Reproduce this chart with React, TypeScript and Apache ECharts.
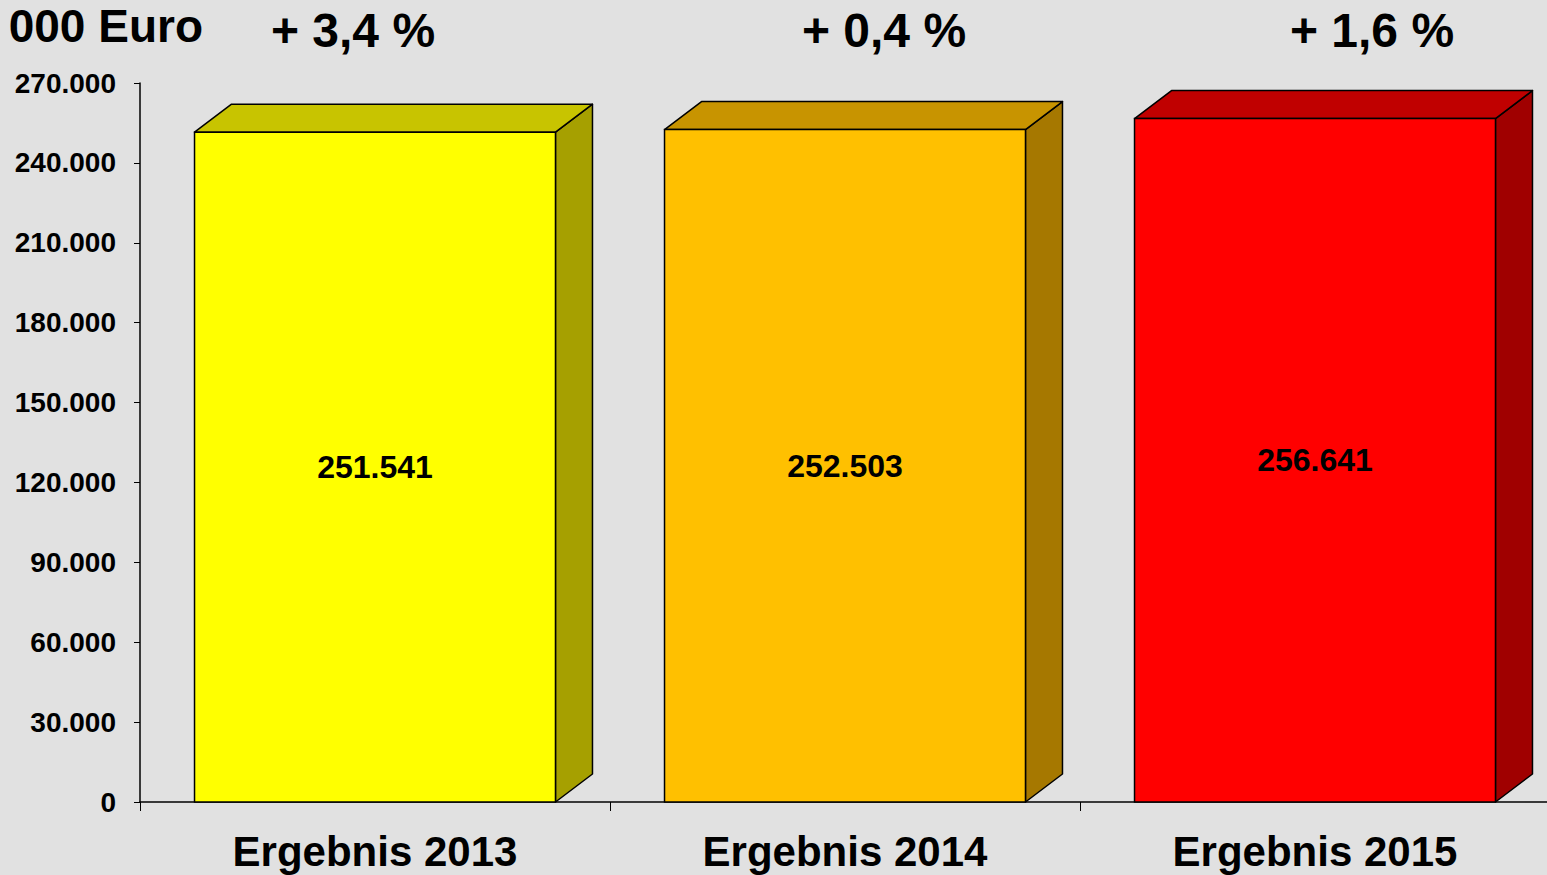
import React, { useEffect, useRef } from "react";
import * as echarts from "echarts";

const categories = ["Ergebnis 2013", "Ergebnis 2014", "Ergebnis 2015"];
const values = [251541, 252503, 256641];
const growthLabels = ["+ 3,4 %", "+ 0,4 %", "+ 1,6 %"];
const unitTitle = "000 Euro";
const frontColors = ["#FFFF00", "#FFC000", "#FF0000"];
const topColors = ["#C8C400", "#C89400", "#C00000"];
const sideColors = ["#A6A000", "#A67800", "#A00000"];

const FONT = '"Liberation Sans", Arial, sans-serif';

function fmt(v: number): string {
  return String(Math.round(v)).replace(/\B(?=(\d{3})+(?!\d))/g, ".");
}

export default function App() {
  const ref = useRef<HTMLDivElement>(null);
  useEffect(() => {
    if (!ref.current) return;
    const chart = echarts.init(ref.current, undefined, { renderer: "svg" });
    const stroke = "#000";
    const lw = 1.5;
    chart.setOption({
      animation: false,
      backgroundColor: "#e1e1e1",
      grid: { left: 140, top: 83, width: 1410, bottom: 73, containLabel: false },
      xAxis: {
        type: "category",
        data: categories,
        boundaryGap: true,
        axisLine: { show: true, lineStyle: { color: "#000", width: 1.5 } },
        axisTick: { show: true, length: 9, alignWithLabel: false, lineStyle: { color: "#000", width: 1 } },
        axisLabel: {
          margin: 28,
          color: "#000",
          fontFamily: FONT,
          fontWeight: "bold",
          fontSize: 42,
        },
      },
      yAxis: {
        type: "value",
        min: 0,
        max: 270000,
        interval: 30000,
        splitLine: { show: false },
        axisLine: { show: true, lineStyle: { color: "#000", width: 1.5 } },
        axisTick: { show: true, length: 6, lineStyle: { color: "#000", width: 1 } },
        axisLabel: {
          margin: 24,
          color: "#000",
          fontFamily: FONT,
          fontWeight: "bold",
          fontSize: 28,
          formatter: (v: number) => fmt(v),
        },
      },
      series: [
        {
          type: "custom",
          data: values.map((v, i) => [i, v]),
          encode: { x: 0, y: 1 },
          clip: false,
          renderItem: (params: any, api: any) => {
            const idx = api.value(0);
            const val = api.value(1);
            const top = api.coord([idx, val]);
            const base = api.coord([idx, 0]);
            const bandW = api.size([1, 0])[0];
            const w = bandW * 0.768;
            const x0 = top[0] - w / 2;
            const x1 = top[0] + w / 2;
            const yT = top[1];
            const yB = base[1];
            const dx = 37;
            const dy = 28;
            return {
              type: "group",
              children: [
                {
                  type: "polygon",
                  shape: { points: [[x1, yB], [x1 + dx, yB - dy], [x1 + dx, yT - dy], [x1, yT]] },
                  style: { fill: sideColors[idx], stroke, lineWidth: lw, lineJoin: "round" },
                },
                {
                  type: "polygon",
                  shape: { points: [[x0, yT], [x0 + dx, yT - dy], [x1 + dx, yT - dy], [x1, yT]] },
                  style: { fill: topColors[idx], stroke, lineWidth: lw, lineJoin: "round" },
                },
                {
                  type: "rect",
                  shape: { x: x0, y: yT, width: w, height: yB - yT },
                  style: { fill: frontColors[idx], stroke, lineWidth: lw },
                },
                {
                  type: "text",
                  x: top[0],
                  y: (yT + yB) / 2,
                  style: {
                    text: fmt(val),
                    fill: "#000",
                    font: `bold 32px ${FONT}`,
                    align: "center",
                    verticalAlign: "middle",
                  },
                },
              ],
            };
          },
        },
      ],
      graphic: [
        {
          type: "text",
          x: 203,
          y: 3,
          style: {
            text: unitTitle,
            fill: "#000",
            font: `bold 46px ${FONT}`,
            align: "right",
            verticalAlign: "top",
          },
        },
        ...growthLabels.map((t, i) => ({
          type: "text",
          x: [353, 884, 1372][i],
          y: 30,
          style: {
            text: t,
            fill: "#000",
            font: `bold 48px ${FONT}`,
            align: "center",
            verticalAlign: "middle",
          },
        })),
      ],
    });
    return () => chart.dispose();
  }, []);
  return (
    <div
      ref={ref}
      style={{ position: "fixed", left: 0, top: 0, width: 1560, height: 875 }}
    />
  );
}
